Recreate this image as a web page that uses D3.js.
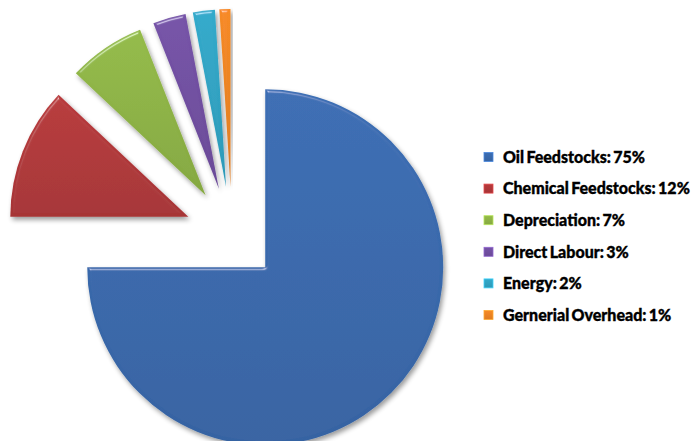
<!DOCTYPE html>
<html>
<head>
<meta charset="utf-8">
<script src="https://cdn.jsdelivr.net/npm/d3@7"></script>
<style>
  html, body { margin: 0; padding: 0; background: #fff; }
  svg { display: block; }
  .legend text { font-family: Lato, "Open Sans", sans-serif; font-weight: 900; font-size: 16px; fill: #000; stroke: #000; stroke-width: 0.35px; word-spacing: -1.5px; }
</style>
</head>
<body>
<div id="chart"></div>
<script>
const width = 693;
const height = 441;

// data
const categories = ["Oil Feedstocks", "Chemical Feedstocks", "Depreciation", "Direct Labour", "Energy", "Gernerial Overhead"];
const values = [75, 12, 7, 3, 2, 1];
const palette = ["#3a6aae", "#b2383a", "#8fb446", "#7250a2", "#30a4c4", "#ee8524"];

const cx = 232, cy = 234;
const radius = 178;
const explode = 47;

const data = categories.map((name, i) => ({ name, value: values[i] }));

const color = d3.scaleOrdinal().domain(categories).range(palette);

const svg = d3.select("#chart")
  .append("svg")
  .attr("width", width)
  .attr("height", height);

const defs = svg.append("defs");

// bevel + soft shadow
const f = defs.append("filter")
  .attr("id", "bevel")
  .attr("x", "-20%").attr("y", "-20%")
  .attr("width", "140%").attr("height", "140%");
f.append("feGaussianBlur").attr("in", "SourceAlpha").attr("stdDeviation", 1.8).attr("result", "blur");
const spec = f.append("feSpecularLighting")
  .attr("in", "blur").attr("surfaceScale", 3)
  .attr("specularConstant", 0.7).attr("specularExponent", 30)
  .attr("lighting-color", "#ffffff").attr("result", "spec");
spec.append("feDistantLight").attr("azimuth", 250).attr("elevation", 30);
f.append("feComposite").attr("in", "spec").attr("in2", "SourceAlpha").attr("operator", "in").attr("result", "specOut");
f.append("feComposite").attr("in", "SourceGraphic").attr("in2", "specOut")
  .attr("operator", "arithmetic").attr("k1", 0).attr("k2", 1).attr("k3", 0.6).attr("k4", 0).attr("result", "lit");
f.append("feGaussianBlur").attr("in", "SourceAlpha").attr("stdDeviation", 2.5).attr("result", "sblur");
f.append("feOffset").attr("in", "sblur").attr("dx", 2).attr("dy", 3).attr("result", "soff");
f.append("feComponentTransfer").attr("in", "soff").attr("result", "shadow")
  .append("feFuncA").attr("type", "linear").attr("slope", 0.4);
const merge = f.append("feMerge");
merge.append("feMergeNode").attr("in", "shadow");
merge.append("feMergeNode").attr("in", "lit");

// vertical shading gradient per colour
palette.forEach((c, i) => {
  const g = defs.append("linearGradient")
    .attr("id", "grad" + i)
    .attr("x1", 0).attr("y1", 0).attr("x2", 0).attr("y2", 1);
  g.append("stop").attr("offset", "0%").attr("stop-color", d3.color(c).brighter(0.1));
  g.append("stop").attr("offset", "100%").attr("stop-color", d3.color(c).darker(0.2));
});

const pie = d3.pie().sort(null).value(d => d.value);
const arc = d3.arc().innerRadius(0).outerRadius(radius);

svg.append("g")
  .attr("transform", `translate(${cx},${cy})`)
  .selectAll("path")
  .data(pie(data))
  .enter()
  .append("path")
  .attr("d", arc)
  .attr("fill", (d, i) => `url(#grad${i})`)
  .attr("filter", "url(#bevel)")
  .attr("transform", d => {
    const mid = (d.startAngle + d.endAngle) / 2;
    return `translate(${explode * Math.sin(mid)},${-explode * Math.cos(mid)})`;
  });

// legend
const legendY = d3.scalePoint()
  .domain(categories)
  .range([157, 315]);

const legend = svg.append("g")
  .attr("class", "legend")
  .selectAll("g")
  .data(data)
  .enter()
  .append("g")
  .attr("transform", d => `translate(484,${legendY(d.name)})`);

legend.append("rect")
  .attr("x", 0)
  .attr("y", -4.5)
  .attr("width", 9)
  .attr("height", 9)
  .attr("fill", (d, i) => `url(#grad${i})`)
  .attr("stroke", d => d3.color(color(d.name)).brighter(0.7))
  .attr("stroke-width", 0.8);

legend.append("text")
  .attr("x", 19)
  .attr("y", 0)
  .attr("dy", "0.36em")
  .text(d => `${d.name}: ${d.value}%`);
</script>
</body>
</html>
